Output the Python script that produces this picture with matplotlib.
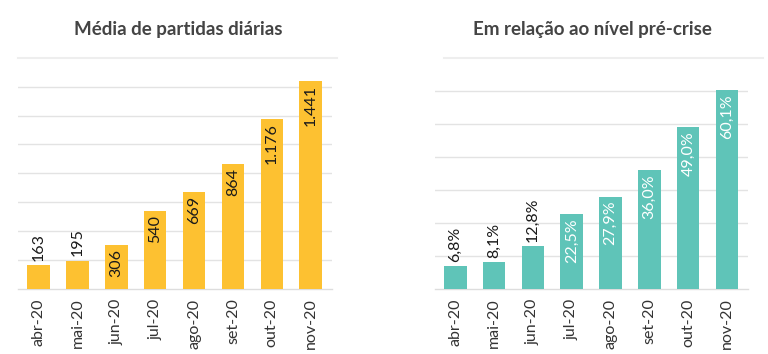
import matplotlib
matplotlib.use("Agg")
import matplotlib.pyplot as plt
from matplotlib.lines import Line2D

months = ["abr-20", "mai-20", "jun-20", "jul-20", "ago-20", "set-20", "out-20", "nov-20"]
daily = [163, 195, 306, 540, 669, 864, 1176, 1441]
daily_labels = ["163", "195", "306", "540", "669", "864", "1.176", "1.441"]
pct = [6.8, 8.1, 12.8, 22.5, 27.9, 36.0, 49.0, 60.1]
pct_labels = ["6,8%", "8,1%", "12,8%", "22,5%", "27,9%", "36,0%", "49,0%", "60,1%"]
daily_inside = [False, False, True, True, True, True, True, True]
pct_inside = [False, False, False, True, True, True, True, True]

plt.rcParams['font.family'] = ['Lato', 'DejaVu Sans']

fig = plt.figure(figsize=(7.68, 3.54), dpi=100)
fig.patch.set_facecolor("white")

W, H = 768, 354
def axes_px(x0, x1, ytop, ybot):
    return fig.add_axes([x0 / W, 1 - ybot / H, (x1 - x0) / W, (ybot - ytop) / H])

ax1 = axes_px(18, 331.7, 60, 288.7)
ax2 = axes_px(434.7, 748, 60, 288.7)

def style(ax, vals, labels, inside, color, ylim, grid, in_color):
    x = list(range(len(vals)))
    ax.bar(x, vals, width=0.58, color=color, zorder=3)
    ax.set_xlim(-0.53, len(vals) - 1 + 0.54)
    ax.set_ylim(0, ylim)
    ax.set_yticks(grid)
    ax.yaxis.grid(True, color="#e3e3e3", linewidth=1, zorder=0)
    ax.set_yticklabels([])
    ax.tick_params(axis="y", length=0)
    ax.set_xticks(x)
    ax.set_xticklabels(months, rotation=90, fontsize=11.5, color="#333333")
    ax.tick_params(axis="x", length=0, pad=7)
    for s in ["top", "right", "left"]:
        ax.spines[s].set_visible(False)
    ax.spines["bottom"].set_color("#dddddd")
    ax.spines["bottom"].set_linewidth(1)
    for xi, v, lab, ins in zip(x, vals, labels, inside):
        if ins:
            ax.annotate(lab, (xi, v), xytext=(0, -3), textcoords="offset points",
                        rotation=90, ha="center", va="top", fontsize=11.5,
                        color=in_color, zorder=4)
        else:
            ax.annotate(lab, (xi, v), xytext=(0, 3), textcoords="offset points",
                        rotation=90, ha="center", va="bottom", fontsize=11.5,
                        color="#1a1a1a", zorder=4)

style(ax1, daily, daily_labels, daily_inside, "#FDC131", 1585,
      [200, 400, 600, 800, 1000, 1200, 1400], "#1a1a1a")
style(ax2, pct, pct_labels, pct_inside, "#5FC4B8", 69.3,
      [10, 20, 30, 40, 50, 60], "#ffffff")

fig.text(178 / W, 1 - 30 / H, "Média de partidas diárias", ha="center", va="center",
         fontsize=13.5, fontweight="bold", color="#444444")
fig.text(592 / W, 1 - 30 / H, "Em relação ao nível pré-crise", ha="center", va="center",
         fontsize=13.5, fontweight="bold", color="#444444")

fig.add_artist(Line2D([18 / W, 337 / W], [1 - 57.5 / H] * 2, color="#eeeeee", linewidth=1.5))
fig.add_artist(Line2D([444 / W, 763 / W], [1 - 57.5 / H] * 2, color="#eeeeee", linewidth=1.5))

fig.savefig("out.png", dpi=100, facecolor="white")
